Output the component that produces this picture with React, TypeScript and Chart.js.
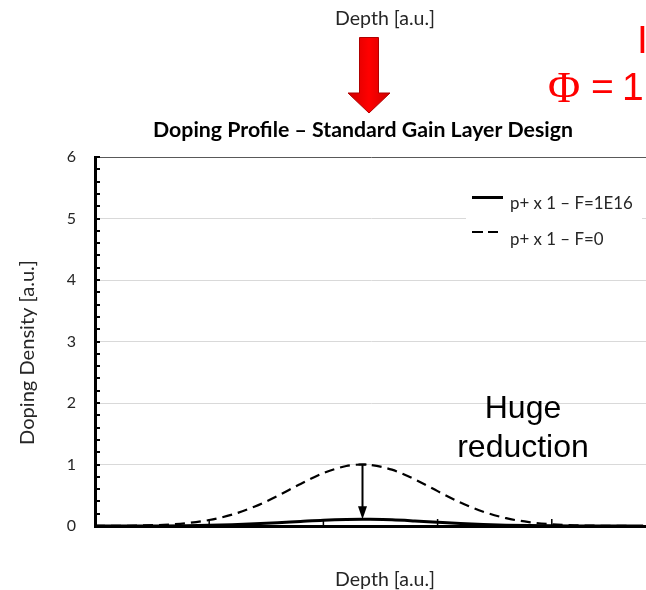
import { useEffect, useRef } from "react";
import { Chart, registerables } from "chart.js";
Chart.register(...registerables);

const depth = [0, 0.2, 0.4, 0.6, 0.8, 1.0, 1.2, 1.4, 1.6, 1.8, 2.0, 2.2, 2.34, 2.4, 2.6, 2.8, 3.0, 3.2, 3.4, 3.6, 3.8, 4.0, 4.2, 4.4, 4.6, 4.8];
const dopingF0 = [0.001, 0.003, 0.008, 0.02, 0.046, 0.097, 0.185, 0.317, 0.49, 0.684, 0.86, 0.975, 1.0, 0.995, 0.916, 0.759, 0.567, 0.382, 0.232, 0.127, 0.063, 0.028, 0.011, 0.004, 0.001, 0.0];
const dopingF1E16 = [0, 0.0003, 0.001, 0.002, 0.005, 0.011, 0.02, 0.035, 0.054, 0.075, 0.095, 0.107, 0.11, 0.109, 0.101, 0.083, 0.062, 0.042, 0.026, 0.014, 0.007, 0.003, 0.001, 0.0004, 0.0001, 0];
const yTickValues = [0, 1, 2, 3, 4, 5, 6];
const xTickValues = [1, 2, 3, 4];
const seriesLabels = ["p+ x 1 – F=1E16", "p+ x 1 – F=0"];
const titleText = "Doping Profile – Standard Gain Layer Design";
const xTitle = "Depth [a.u.]";
const yTitle = "Doping Density [a.u.]";
const noteLines = ["Huge", "reduction"];
const fluenceSymbol = "Φ";
const fluenceRest = ["=", "1"];
const cutText = "I";

const FONT = "Lato, 'Open Sans', sans-serif";
const ARIAL = "'Liberation Sans', Arial, sans-serif";
const SERIF = "'Liberation Serif', 'Times New Roman', serif";

function fitFont(ctx: CanvasRenderingContext2D, text: string, weight: string, family: string, width: number) {
  const base = 20;
  ctx.font = `${weight} ${base}px ${family}`;
  const w = ctx.measureText(text).width;
  const size = (base * width) / w;
  return `${weight} ${size.toFixed(2)}px ${family}`;
}

const annotate = {
  id: "annotate",
  beforeDatasetsDraw(chart: any) {
    const ctx = chart.ctx as CanvasRenderingContext2D;
    ctx.save();
    ctx.fillStyle = "#ffffff";
    ctx.fillRect(466, 184, 176, 72);
    ctx.restore();
  },
  afterDraw(chart: any) {
    const ctx = chart.ctx as CanvasRenderingContext2D;
    const xs = chart.scales.x;
    const ys = chart.scales.y;
    const area = chart.chartArea;
    ctx.save();

    // inner tick marks on y axis (major + minor every 0.2)
    ctx.strokeStyle = "#000";
    ctx.lineWidth = 2;
    for (let i = 0; i <= 30; i++) {
      const py = Math.round(ys.getPixelForValue(i * 0.2));
      ctx.beginPath();
      ctx.moveTo(area.left, py);
      ctx.lineTo(area.left + 5, py);
      ctx.stroke();
    }
    // inner tick marks on x axis
    ctx.lineWidth = 1.5;
    xTickValues.forEach((v) => {
      const px = xs.getPixelForValue(v);
      ctx.beginPath();
      ctx.moveTo(px, area.bottom);
      ctx.lineTo(px, area.bottom - 7);
      ctx.stroke();
    });

    // reduction arrow between the two peaks
    let peak = 0;
    dopingF0.forEach((v, i) => { if (v > dopingF0[peak]) peak = i; });
    const ax = Math.round(xs.getPixelForValue(depth[peak])) + 0.5;
    const aTop = ys.getPixelForValue(dopingF0[peak]);
    const aBot = ys.getPixelForValue(dopingF1E16[peak]);
    ctx.strokeStyle = "#000";
    ctx.fillStyle = "#000";
    ctx.lineWidth = 2;
    ctx.beginPath();
    ctx.moveTo(ax - 4, aTop);
    ctx.lineTo(ax + 4, aTop);
    ctx.moveTo(ax, aTop);
    ctx.lineTo(ax, aBot - 10);
    ctx.stroke();
    ctx.beginPath();
    ctx.moveTo(ax - 4.5, aBot - 13);
    ctx.lineTo(ax + 4.5, aBot - 13);
    ctx.lineTo(ax, aBot);
    ctx.closePath();
    ctx.fill();

    // legend
    const ds = chart.data.datasets;
    ctx.strokeStyle = ds[0].borderColor;
    ctx.lineWidth = ds[0].borderWidth;
    ctx.beginPath();
    ctx.moveTo(472, 197.5);
    ctx.lineTo(503, 197.5);
    ctx.stroke();
    ctx.setLineDash([11, 5]);
    ctx.lineWidth = ds[1].borderWidth;
    ctx.beginPath();
    ctx.moveTo(472, 232);
    ctx.lineTo(498, 232);
    ctx.stroke();
    ctx.setLineDash([]);
    const legFont = fitFont(ctx, ds[0].label, "normal", FONT, 123);
    ctx.font = legFont;
    ctx.fillStyle = "#262626";
    ctx.textAlign = "left";
    ctx.textBaseline = "alphabetic";
    ctx.fillText(ds[0].label, 510, 208.5);
    ctx.fillText(ds[1].label, 510, 245);

    // title
    ctx.fillStyle = "#000";
    ctx.font = fitFont(ctx, titleText, "bold", FONT, 420);
    ctx.textAlign = "left";
    ctx.fillText(titleText, 153, 137);

    // top depth label
    ctx.fillStyle = "#262626";
    const depthFont = fitFont(ctx, xTitle, "normal", FONT, 100);
    ctx.font = depthFont;
    ctx.textAlign = "center";
    ctx.fillText(xTitle, 385, 25);
    // bottom depth label
    ctx.fillText(xTitle, 385, 586);

    // y title
    ctx.save();
    ctx.translate(28, 352.5);
    ctx.rotate(-Math.PI / 2);
    ctx.font = fitFont(ctx, yTitle, "normal", FONT, 185);
    ctx.textAlign = "center";
    ctx.textBaseline = "middle";
    ctx.fillText(yTitle, 0, 0);
    ctx.restore();

    // red arrow
    const grad = ctx.createLinearGradient(348, 0, 390, 0);
    grad.addColorStop(0, "#d00000");
    grad.addColorStop(0.5, "#ff0000");
    grad.addColorStop(1, "#d00000");
    ctx.fillStyle = grad;
    ctx.strokeStyle = "#b00000";
    ctx.lineWidth = 1;
    ctx.beginPath();
    ctx.moveTo(359.5, 37.5);
    ctx.lineTo(378.5, 37.5);
    ctx.lineTo(378.5, 93);
    ctx.lineTo(390, 93);
    ctx.lineTo(369, 113);
    ctx.lineTo(348, 93);
    ctx.lineTo(359.5, 93);
    ctx.closePath();
    ctx.fill();
    ctx.stroke();

    // Huge reduction note
    ctx.fillStyle = "#000";
    ctx.font = `normal 32px ${ARIAL}`;
    ctx.textAlign = "center";
    ctx.textBaseline = "alphabetic";
    ctx.fillText(noteLines[0], 523, 418);
    ctx.fillText(noteLines[1], 523, 457);

    // fluence text (red)
    ctx.fillStyle = "#ff0000";
    ctx.textAlign = "left";
    ctx.font = `normal 44px ${SERIF}`;
    ctx.fillText(fluenceSymbol, 548, 102);
    ctx.font = `normal 39px ${ARIAL}`;
    ctx.fillText(fluenceRest[0], 591, 100);
    ctx.fillText(fluenceRest[1], 622, 100);
    ctx.fillText(cutText, 637, 53);

    ctx.restore();
  },
};

export default function App() {
  const ref = useRef<HTMLCanvasElement>(null);
  useEffect(() => {
    if (!ref.current) return;
    const chart = new Chart(ref.current, {
      type: "line",
      data: {
        datasets: [
          {
            label: seriesLabels[0],
            data: depth.map((x, i) => ({ x, y: dopingF1E16[i] })),
            borderColor: "#000000",
            borderWidth: 3,
            pointRadius: 0,
            cubicInterpolationMode: "monotone",
            fill: false,
          },
          {
            label: seriesLabels[1],
            data: depth.map((x, i) => ({ x, y: dopingF0[i] })),
            borderColor: "#000000",
            borderWidth: 2.2,
            borderDash: [10, 6],
            pointRadius: 0,
            cubicInterpolationMode: "monotone",
            fill: false,
          },
        ],
      },
      options: {
        animation: false,
        responsive: false,
        devicePixelRatio: 1,
        layout: { padding: { top: 157, right: 0, bottom: 64, left: 0 } },
        plugins: { legend: { display: false }, title: { display: false }, tooltip: { enabled: false } },
        scales: {
          x: {
            type: "linear",
            min: 0,
            max: 4.825,
            ticks: { display: false },
            grid: { display: false, drawTicks: false },
            border: { display: true, color: "#000", width: 3 },
            afterFit: (s: any) => { s.height = 0; },
          },
          y: {
            min: 0,
            max: 6,
            afterBuildTicks: (s: any) => { s.ticks = yTickValues.map((v) => ({ value: v })); },
            ticks: {
              padding: 19,
              color: "#262626",
              font: { family: FONT, size: 16 },
            },
            grid: {
              drawTicks: false,
              color: (c: any) => (c.tick && c.tick.value === 6 ? "#595959" : "#d9d9d9"),
              lineWidth: 1,
            },
            border: { display: true, color: "#000", width: 3 },
            afterFit: (s: any) => { s.width = 95; },
          },
        },
      },
      plugins: [annotate],
    });
    return () => chart.destroy();
  }, []);
  return (
    <div style={{ position: "absolute", left: 0, top: 0, width: 646, height: 590, overflow: "hidden", background: "#fff" }}>
      <canvas ref={ref} width={646} height={590} style={{ display: "block" }} />
    </div>
  );
}
